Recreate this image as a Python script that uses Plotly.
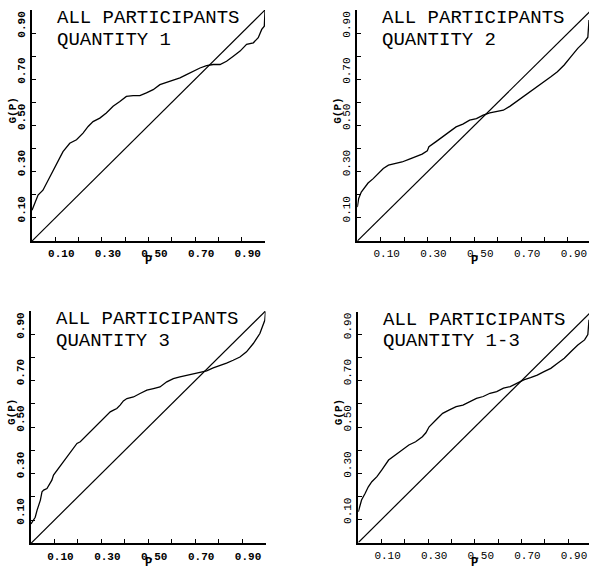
import plotly.graph_objects as go

# ---------------- data ----------------
p_q1 = [0, 0.011, 0.026, 0.047, 0.062, 0.076, 0.090, 0.112, 0.133, 0.162, 0.191, 0.219, 0.241,
        0.262, 0.291, 0.319, 0.348, 0.377, 0.405, 0.434, 0.463, 0.491, 0.520, 0.549, 0.577,
        0.606, 0.635, 0.663, 0.692, 0.721, 0.749, 0.778, 0.807, 0.835, 0.864, 0.893, 0.921,
        0.950, 0.971, 0.986, 0.997, 1.0]
g_q1 = [0.133, 0.162, 0.199, 0.220, 0.249, 0.278, 0.307, 0.351, 0.387, 0.423, 0.438, 0.467, 0.496,
        0.517, 0.532, 0.554, 0.583, 0.604, 0.626, 0.629, 0.629, 0.641, 0.655, 0.677, 0.687,
        0.699, 0.706, 0.720, 0.735, 0.749, 0.759, 0.764, 0.764, 0.778, 0.800, 0.822, 0.851,
        0.858, 0.880, 0.916, 0.930, 0.996]

p_q2 = [0, 0.006, 0.017, 0.032, 0.046, 0.068, 0.090, 0.111, 0.133, 0.162, 0.191, 0.220, 0.249,
        0.277, 0.299, 0.306, 0.335, 0.364, 0.393, 0.422, 0.451, 0.480, 0.509, 0.538, 0.566,
        0.595, 0.624, 0.653, 0.682, 0.711, 0.740, 0.769, 0.798, 0.827, 0.855, 0.884, 0.913,
        0.942, 0.971, 0.985, 0.99]
g_q2 = [0.147, 0.184, 0.212, 0.234, 0.251, 0.270, 0.292, 0.314, 0.328, 0.335, 0.342, 0.353, 0.364,
        0.376, 0.390, 0.408, 0.429, 0.451, 0.473, 0.494, 0.506, 0.523, 0.530, 0.545, 0.555,
        0.559, 0.566, 0.584, 0.605, 0.624, 0.646, 0.668, 0.689, 0.711, 0.733, 0.762, 0.798,
        0.834, 0.863, 0.882, 0.957]

p_q3 = [0, 0.011, 0.018, 0.026, 0.033, 0.040, 0.047, 0.054, 0.068, 0.082, 0.089, 0.096, 0.111,
        0.125, 0.139, 0.153, 0.167, 0.182, 0.196, 0.210, 0.224, 0.238, 0.252, 0.267, 0.281,
        0.295, 0.309, 0.323, 0.338, 0.352, 0.366, 0.380, 0.394, 0.409, 0.437, 0.465, 0.494,
        0.522, 0.550, 0.579, 0.607, 0.635, 0.664, 0.692, 0.721, 0.749, 0.777, 0.806, 0.834,
        0.862, 0.891, 0.919, 0.948, 0.976, 0.997, 1.0]
g_q3 = [0.083, 0.100, 0.112, 0.143, 0.165, 0.186, 0.222, 0.229, 0.236, 0.258, 0.272, 0.294, 0.315,
        0.330, 0.351, 0.372, 0.394, 0.415, 0.430, 0.437, 0.451, 0.466, 0.480, 0.494, 0.509,
        0.523, 0.537, 0.552, 0.566, 0.573, 0.580, 0.595, 0.613, 0.623, 0.630, 0.645, 0.659,
        0.666, 0.673, 0.695, 0.709, 0.716, 0.723, 0.731, 0.738, 0.742, 0.755, 0.765, 0.776,
        0.788, 0.802, 0.824, 0.860, 0.903, 0.960, 0.996]

p_q13 = [0, 0.007, 0.014, 0.029, 0.043, 0.058, 0.080, 0.101, 0.116, 0.130, 0.159, 0.188, 0.217,
         0.246, 0.275, 0.290, 0.304, 0.333, 0.362, 0.391, 0.420, 0.449, 0.478, 0.507, 0.536,
         0.565, 0.594, 0.623, 0.652, 0.681, 0.710, 0.739, 0.768, 0.797, 0.826, 0.855, 0.884,
         0.913, 0.942, 0.971, 0.985, 0.99]
g_q13 = [0.133, 0.162, 0.184, 0.212, 0.241, 0.263, 0.285, 0.314, 0.335, 0.357, 0.379, 0.400, 0.422,
         0.436, 0.458, 0.475, 0.501, 0.530, 0.559, 0.574, 0.588, 0.595, 0.610, 0.624, 0.632,
         0.646, 0.653, 0.668, 0.675, 0.689, 0.704, 0.714, 0.725, 0.740, 0.754, 0.776, 0.798,
         0.827, 0.855, 0.877, 0.900, 0.964]

diag_p = [0, 1]
diag_g = [0, 1]

tick_vals = [0.1, 0.2, 0.3, 0.4, 0.5, 0.6, 0.7, 0.8, 0.9]
tick_text = ["0.10", "", "0.30", "", "0.50", "", "0.70", "", "0.90"]

title_line1 = ["ALL PARTICIPANTS"] * 4
title_line2 = ["QUANTITY 1", "QUANTITY 2", "QUANTITY 3", "QUANTITY 1-3"]
x_title = "P"
y_title = "G(P)"

# ---------------- layout ----------------
W, H = 589, 566
panels = [
    dict(x=(32, 265), y=(241, 10), xr=1.0, bold=True),
    dict(x=(357.3, 589), y=(241, 10), xr=0.99, bold=False),
    dict(x=(31, 265.5), y=(543.3, 311), xr=1.0, bold=True),
    dict(x=(358.3, 589), y=(542.5, 311.5), xr=0.99, bold=False),
]
series = [(p_q1, g_q1), (p_q2, g_q2), (p_q3, g_q3), (p_q13, g_q13)]

fig = go.Figure()
annotations = []
mono = "Liberation Mono, DejaVu Sans Mono, monospace"

for i, (pan, (px, gy)) in enumerate(zip(panels, series)):
    k = "" if i == 0 else str(i + 1)
    xa, ya = "x" + k, "y" + k
    fig.add_trace(go.Scatter(x=diag_p, y=diag_g, mode="lines", xaxis=xa, yaxis=ya,
                             line=dict(color="black", width=1.2), showlegend=False,
                             hoverinfo="skip", cliponaxis=True))
    fig.add_trace(go.Scatter(x=px, y=gy, mode="lines", xaxis=xa, yaxis=ya,
                             line=dict(color="black", width=1.3), showlegend=False))
    tf = dict(family=mono, size=11, color="black", weight="bold" if pan["bold"] else "normal")
    axis_common = dict(showgrid=False, zeroline=False, showline=True, linecolor="black",
                       linewidth=2, ticks="inside", ticklen=4, tickwidth=1.2, tickcolor="black",
                       tickmode="array", tickvals=tick_vals, ticktext=tick_text,
                       tickfont=tf, ticklabelstandoff=1, fixedrange=True)
    fig.layout["xaxis" + k] = dict(axis_common, domain=[pan["x"][0] / W, pan["x"][1] / W],
                                   range=[0, pan["xr"]], anchor=ya, tickangle=0,
                                   ticklabelshift=6)
    fig.layout["yaxis" + k] = dict(axis_common, domain=[1 - pan["y"][0] / H, 1 - pan["y"][1] / H],
                                   range=[0, 1], anchor=xa, tickangle=-90,
                                   ticklabelshift=-7)
    annotations += [
        dict(x=0.098, y=0.965, xref=xa, yref=ya, text=title_line1[i], showarrow=False,
             xanchor="left", yanchor="middle", font=dict(family=mono, size=19, color="black")),
        dict(x=0.098, y=0.872, xref=xa, yref=ya, text=title_line2[i], showarrow=False,
             xanchor="left", yanchor="middle", font=dict(family=mono, size=19, color="black")),
        dict(x=0.0, y=0.565, xref=xa, yref=ya, text=y_title, showarrow=False, textangle=-90,
             xshift=-19, xanchor="center", yanchor="middle",
             font=dict(family=mono, size=11, color="black", weight="bold")),
        dict(x=0.5, y=0.0, xref=xa, yref=ya, text=x_title, showarrow=False,
             yshift=-20, xanchor="center", yanchor="middle",
             font=dict(family=mono, size=12, color="black", weight="bold")),
    ]

fig.update_layout(width=W, height=H, autosize=False, margin=dict(l=0, r=0, t=0, b=0, pad=0),
                  paper_bgcolor="white", plot_bgcolor="white", annotations=annotations,
                  showlegend=False)
fig.write_html("out.html", config={"displayModeBar": False},
               post_script="document.body.style.margin='0';document.body.style.overflow='hidden';")
